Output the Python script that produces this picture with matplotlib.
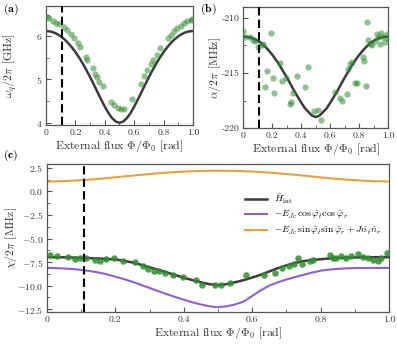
import numpy as np
import matplotlib
matplotlib.use("Agg")
import matplotlib.pyplot as plt
from matplotlib.ticker import MultipleLocator, FuncFormatter

plt.rcParams.update({
    "font.family": "serif",
    "font.serif": ["cmr10"],
    "mathtext.fontset": "cm",
    "axes.formatter.use_mathtext": True,
    "axes.unicode_minus": False,
    "font.size": 8,
})

GREEN = "#2f8f2f"
DARK = "#3c3c3c"
PURPLE = "#8f5fd6"
ORANGE = "#e9a23b"
SPINE = "#555555"
FLUX_LINE = 0.11

# ---- panel (a): qubit frequency ----
qubit_x = [0.008, 0.023, 0.045, 0.068, 0.09, 0.12, 0.143, 0.17, 0.19, 0.215,
           0.233, 0.27, 0.28, 0.317, 0.33, 0.346, 0.362, 0.385, 0.44, 0.464,
           0.49, 0.513, 0.53, 0.588, 0.645, 0.667, 0.69, 0.713, 0.73, 0.753,
           0.776, 0.83, 0.848, 0.871, 0.894, 0.916, 0.94, 0.96, 0.985, 0.995]
qubit_f = [6.44, 6.41, 6.36, 6.31, 6.28, 6.22, 6.15, 6.05, 5.95, 5.85,
           5.75, 5.53, 5.46, 5.26, 5.13, 5.06, 4.95, 4.84, 4.48, 4.40,
           4.34, 4.31, 4.32, 4.54, 4.90, 5.07, 5.23, 5.36, 5.46, 5.57,
           5.72, 5.95, 6.03, 6.11, 6.18, 6.24, 6.30, 6.34, 6.38, 6.40]

curve_x = [0.0, 0.025, 0.05, 0.075, 0.1, 0.125, 0.15, 0.175, 0.2, 0.225,
           0.25, 0.275, 0.3, 0.325, 0.35, 0.375, 0.4, 0.425, 0.45, 0.475,
           0.5, 0.525, 0.55, 0.575, 0.6, 0.625, 0.65, 0.675, 0.7, 0.725,
           0.75, 0.775, 0.8, 0.825, 0.85, 0.875, 0.9, 0.925, 0.95, 0.975, 1.0]
qubit_fit = [6.120, 6.112, 6.089, 6.051, 5.997, 5.928, 5.844, 5.745, 5.633, 5.506,
             5.366, 5.215, 5.053, 4.884, 4.710, 4.537, 4.372, 4.224, 4.105, 4.027,
             4.000, 4.027, 4.105, 4.224, 4.372, 4.537, 4.710, 4.884, 5.053, 5.215,
             5.366, 5.506, 5.633, 5.745, 5.844, 5.928, 5.997, 6.051, 6.089, 6.112, 6.120]

# ---- panel (b): anharmonicity ----
anh_x = [0.0, 0.011, 0.046, 0.069, 0.08, 0.103, 0.126, 0.138, 0.191, 0.161,
         0.149, 0.207, 0.214, 0.253, 0.269, 0.292, 0.322, 0.329, 0.345, 0.368,
         0.425, 0.448, 0.49, 0.513, 0.533, 0.632, 0.667, 0.678, 0.713, 0.72,
         0.736, 0.752, 0.77, 0.782, 0.828, 0.834, 0.844, 0.851, 0.857, 0.874,
         0.89, 0.908, 0.92, 0.931, 0.943, 0.949, 0.966, 0.977, 0.989, 0.995]
anh_y = [-211.15, -211.76, -211.76, -212.0, -212.12, -212.67, -212.5, -212.4, -211.33, -214.79,
         -216.24, -215.45, -216.8, -214.12, -215.7, -215.45, -217.82, -217.67, -216.85, -215.24,
         -216.3, -214.48, -218.48, -218.36, -219.27, -216.76, -217.3, -217.5, -216.9, -214.64,
         -214.18, -214.03, -215.9, -215.94, -213.58, -213.88, -216.15, -210.33, -212.0, -212.36,
         -212.5, -212.06, -211.45, -211.76, -212.36, -211.4, -211.76, -212.2, -211.5, -211.9]
anh_fit = [-211.70, -211.72, -211.78, -211.90, -212.07, -212.30, -212.60, -212.95, -213.35, -213.80,
           -214.30, -214.85, -215.40, -216.00, -216.60, -217.15, -217.70, -218.20, -218.55, -218.88,
           -219.00, -218.88, -218.55, -218.20, -217.70, -217.15, -216.60, -216.00, -215.40, -214.85,
           -214.30, -213.80, -213.35, -212.95, -212.60, -212.30, -212.07, -211.90, -211.78, -211.72, -211.70]

# ---- panel (c): dispersive shift ----
chi_x = [0.008, 0.029, 0.063, 0.083, 0.097, 0.115, 0.141, 0.155, 0.173, 0.196,
         0.223, 0.257, 0.282, 0.296, 0.313, 0.328, 0.345, 0.369, 0.398, 0.435,
         0.452, 0.491, 0.51, 0.534, 0.583, 0.636, 0.666, 0.687, 0.709, 0.722,
         0.734, 0.745, 0.768, 0.777, 0.826, 0.836, 0.845, 0.86, 0.875, 0.889,
         0.909, 0.923, 0.938, 0.952, 0.967, 0.977, 0.994]
chi_y = [-6.80, -6.87, -6.94, -7.16, -7.05, -7.12, -7.23, -7.34, -7.16, -7.12,
         -7.34, -7.48, -7.94, -8.19, -8.40, -8.48, -8.65, -8.90, -9.12, -9.37,
         -9.90, -9.97, -9.90, -9.72, -8.83, -8.83, -8.65, -8.12, -7.94, -7.76,
         -7.12, -7.69, -7.40, -7.27, -6.70, -7.12, -7.12, -6.87, -7.12, -6.87,
         -6.62, -6.98, -7.12, -7.23, -7.34, -7.12, -6.52]
chi_hint = [-6.98, -6.99, -7.00, -7.02, -7.05, -7.08, -7.12, -7.17, -7.23, -7.36,
            -7.55, -7.78, -8.05, -8.32, -8.60, -8.88, -9.15, -9.42, -9.65, -9.85,
            -9.95, -9.85, -9.65, -9.42, -9.15, -8.85, -8.50, -8.15, -7.85, -7.60,
            -7.40, -7.28, -7.20, -7.12, -7.06, -7.03, -7.01, -7.00, -6.99, -6.98, -6.98]
chi_cos = [-8.12, -8.14, -8.18, -8.24, -8.33, -8.45, -8.60, -8.80, -9.05, -9.31,
           -9.60, -9.92, -10.25, -10.58, -10.90, -11.21, -11.50, -11.77, -12.00, -12.20,
           -12.30, -12.20, -12.00, -11.70, -11.10, -10.50, -10.00, -9.65, -9.36, -9.10,
           -8.85, -8.62, -8.42, -8.30, -8.22, -8.17, -8.14, -8.13, -8.12, -8.12, -8.12]
chi_sin = [1.05, 1.07, 1.10, 1.14, 1.20, 1.26, 1.33, 1.41, 1.50, 1.59,
           1.68, 1.77, 1.85, 1.93, 2.00, 2.06, 2.11, 2.15, 2.18, 2.19,
           2.20, 2.19, 2.18, 2.15, 2.11, 2.06, 2.00, 1.93, 1.85, 1.77,
           1.68, 1.59, 1.50, 1.41, 1.33, 1.26, 1.20, 1.14, 1.10, 1.07, 1.05]

x_ticks = [0, 0.2, 0.4, 0.6, 0.8, 1.0]
x_ticklabels = ["0", "0.2", "0.4", "0.6", "0.8", "1.0"]
xlabel = r"External flux $\Phi/\Phi_0$ [rad]"


def style(ax, ylab_x):
    for s in ax.spines.values():
        s.set_color(SPINE)
        s.set_linewidth(0.9)
    ax.tick_params(which="both", direction="in", colors=SPINE, labelcolor="#333333",
                   labelsize=7, top=False, right=False, pad=2.5)
    ax.tick_params(which="major", length=3.5, width=0.8)
    ax.tick_params(which="minor", length=2, width=0.6)
    ax.set_xlim(0, 1)
    ax.set_xticks(x_ticks)
    ax.set_xticklabels(x_ticklabels)
    ax.xaxis.set_minor_locator(MultipleLocator(0.1))
    ax.set_xlabel(xlabel, fontsize=8.5, color="#333333", labelpad=1)
    ax.yaxis.set_label_coords(ylab_x, 0.5)


fig = plt.figure(figsize=(3.97, 3.47), dpi=100)
ax_a = fig.add_axes([0.116, 0.640, 0.370, 0.343])
ax_b = fig.add_axes([0.613, 0.631, 0.365, 0.349])
ax_c = fig.add_axes([0.118, 0.101, 0.862, 0.426])

# (a)
ax_a.plot(curve_x, qubit_fit, color=DARK, lw=1.8, zorder=2)
ax_a.scatter(qubit_x, qubit_f, s=20, color=GREEN, alpha=0.55, lw=0, zorder=3)
ax_a.axvline(FLUX_LINE, color="black", ls="--", lw=1.5, dashes=(4, 2), zorder=4)
ax_a.set_ylim(3.95, 6.7)
ax_a.yaxis.set_major_locator(MultipleLocator(1))
ax_a.yaxis.set_minor_locator(MultipleLocator(0.5))
ax_a.set_ylabel(r"$\omega_q/2\pi$ [GHz]", fontsize=8.5, color="#333333")
style(ax_a, -0.185)

# (b)
ax_b.plot(curve_x, anh_fit, color=DARK, lw=1.8, zorder=2)
ax_b.scatter(anh_x, anh_y, s=20, color=GREEN, alpha=0.55, lw=0, zorder=3)
ax_b.axvline(FLUX_LINE, color="black", ls="--", lw=1.5, dashes=(4, 2), zorder=4)
ax_b.set_ylim(-220, -209)
ax_b.yaxis.set_major_locator(MultipleLocator(5))
ax_b.yaxis.set_minor_locator(MultipleLocator(2.5))
ax_b.yaxis.set_major_formatter(FuncFormatter(lambda v, p: f"{v:.0f}"))
ax_b.set_ylabel(r"$\alpha/2\pi$ [MHz]", fontsize=8.5, color="#333333")
style(ax_b, -0.14)

# (c)
ax_c.plot(curve_x, chi_hint, color=DARK, lw=1.8, zorder=3, label=r"$\hat{H}_{\rm int}$")
ax_c.plot(curve_x, chi_cos, color=PURPLE, lw=1.5, zorder=2,
          label=r"$-E_{Jc}\,\cos\hat{\varphi}_t\cos\hat{\varphi}_r$")
ax_c.plot(curve_x, chi_sin, color=ORANGE, lw=1.5, zorder=2,
          label=r"$-E_{Jc}\,\sin\hat{\varphi}_t\sin\hat{\varphi}_r+J\hat{n}_t\hat{n}_r$")
ax_c.scatter(chi_x, chi_y, s=22, color=GREEN, alpha=0.85, lw=0, zorder=4)
ax_c.axvline(FLUX_LINE, color="black", ls="--", lw=1.5, dashes=(4, 2), zorder=5)
ax_c.set_ylim(-12.8, 2.9)
ax_c.yaxis.set_major_locator(MultipleLocator(2.5))
ax_c.yaxis.set_minor_locator(MultipleLocator(1.25))
ax_c.set_ylabel(r"$\chi/2\pi$ [MHz]", fontsize=8.5, color="#333333")
style(ax_c, -0.082)
ax_c.legend(loc="upper right", bbox_to_anchor=(0.99, 0.84), frameon=False,
            fontsize=7, handlelength=2.2, borderaxespad=0, labelspacing=0.3)

fig.text(0.008, 0.965, r"$\mathbf{(a)}$", fontsize=8.5)
fig.text(0.505, 0.965, r"$\mathbf{(b)}$", fontsize=8.5)
fig.text(0.008, 0.545, r"$\mathbf{(c)}$", fontsize=8.5)

fig.savefig("out.png", dpi=100)
